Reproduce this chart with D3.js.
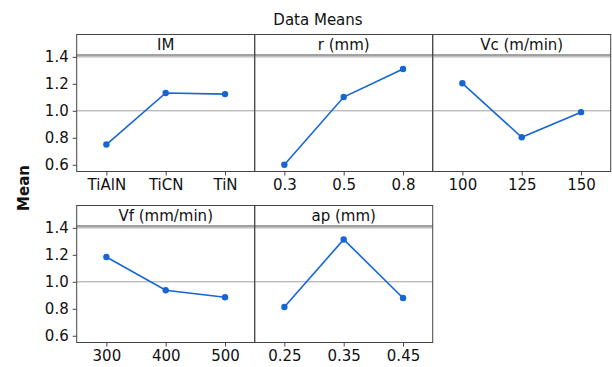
<!DOCTYPE html>
<html>
<head>
<meta charset="utf-8">
<title>Data Means</title>
<script src="https://d3js.org/d3.v7.min.js"></script>
<style>
body { margin: 0; padding: 0; background: #fff; }
svg text { font-family: "DejaVu Sans", sans-serif; fill: #111; }
</style>
</head>
<body>
<div id="chart"></div>
<script>
// factors and their levels
var factors = ['IM', 'r (mm)', 'Vc (m/min)', 'Vf  (mm/min)', 'ap (mm)'];
var levels = [
  ['TiAlN', 'TiCN', 'TiN'],
  ['0.3', '0.5', '0.8'],
  ['100', '125', '150'],
  ['300', '400', '500'],
  ['0.25', '0.35', '0.45']
];
var means = [
  [0.750, 1.132, 1.124],
  [0.600, 1.102, 1.310],
  [1.204, 0.804, 0.990],
  [1.184, 0.937, 0.885],
  [0.813, 1.314, 0.880]
];
var yTicks = [0.6, 0.8, 1.0, 1.2, 1.4];
var refLines = [1.0, 1.4];

var W = 612, H = 367;
var stripH = 21, panelH = 137;
var blue = '#1466d2';

var svg = d3.select('#chart').append('svg')
  .attr('width', W).attr('height', H);

svg.append('text')
  .attr('x', 318).attr('y', 25)
  .attr('text-anchor', 'middle')
  .attr('font-size', 15)
  .text('Data Means');

svg.append('text')
  .attr('transform', 'translate(29,188)rotate(-90)')
  .attr('text-anchor', 'middle')
  .attr('font-size', 15)
  .attr('font-weight', 'bold')
  .text('Mean');

var col = d3.scaleBand().domain([0, 1, 2]).range([76.7, 610.7]);
var row = d3.scaleBand().domain([0, 1]).range([34.5, 376.5]);

factors.forEach(function(f, i) {
  var c = i % 3, r = Math.floor(i / 3);
  var x0 = col(c), y0 = row(r) + (r == 1 ? -0 : 0);
  if (r == 1) y0 = 205.5;
  var w = col.bandwidth();

  var g = svg.append('g').attr('transform', 'translate(' + x0 + ',' + y0 + ')');

  var x = d3.scalePoint().domain(levels[i]).range([0, w]).padding(0.5);
  var y = d3.scaleLinear().domain([0.55, 1.41]).range([panelH, stripH]);

  // reference lines
  g.selectAll('.ref').data(refLines).enter().append('line')
    .attr('x1', 0).attr('x2', w)
    .attr('y1', function(d) { return y(d); })
    .attr('y2', function(d) { return y(d); })
    .attr('stroke', '#a0a0a0').attr('stroke-width', 1);

  // strip
  g.append('line').attr('x1', 0).attr('x2', w)
    .attr('y1', stripH - 0.5).attr('y2', stripH - 0.5)
    .attr('stroke', '#444');
  g.append('text')
    .attr('x', w / 2).attr('y', 15.5)
    .attr('text-anchor', 'middle')
    .attr('font-size', 15)
    .text(f);

  // x axis
  var xa = g.append('g').attr('transform', 'translate(0,' + panelH + ')')
    .call(d3.axisBottom(x).tickSize(4).tickPadding(4));
  xa.select('.domain').remove();
  xa.selectAll('line').attr('stroke', '#444');
  xa.selectAll('text').attr('font-size', 15).attr('font-family', '"DejaVu Sans", sans-serif').attr('fill', '#111');

  // y axis only in first column
  if (c == 0) {
    var ya = g.append('g')
      .call(d3.axisLeft(y).tickValues(yTicks).tickFormat(d3.format('.1f')).tickSize(4).tickPadding(4));
    ya.select('.domain').remove();
    ya.selectAll('line').attr('stroke', '#444');
    ya.selectAll('text').attr('font-size', 15).attr('font-family', '"DejaVu Sans", sans-serif').attr('fill', '#111');
  }

  // border
  g.append('rect')
    .attr('x', 0).attr('y', 0).attr('width', w).attr('height', panelH)
    .attr('fill', 'none').attr('stroke', '#444').attr('stroke-width', 1);

  var pts = levels[i].map(function(l, k) { return [l, means[i][k]]; });

  g.append('path')
    .datum(pts)
    .attr('fill', 'none')
    .attr('stroke', blue)
    .attr('stroke-width', 1.6)
    .attr('d', d3.line().x(function(d) { return x(d[0]); }).y(function(d) { return y(d[1]); }));

  g.selectAll('.pt').data(pts).enter().append('circle')
    .attr('cx', function(d) { return x(d[0]); })
    .attr('cy', function(d) { return y(d[1]); })
    .attr('r', 3.2)
    .attr('fill', blue);
});
</script>
</body>
</html>
